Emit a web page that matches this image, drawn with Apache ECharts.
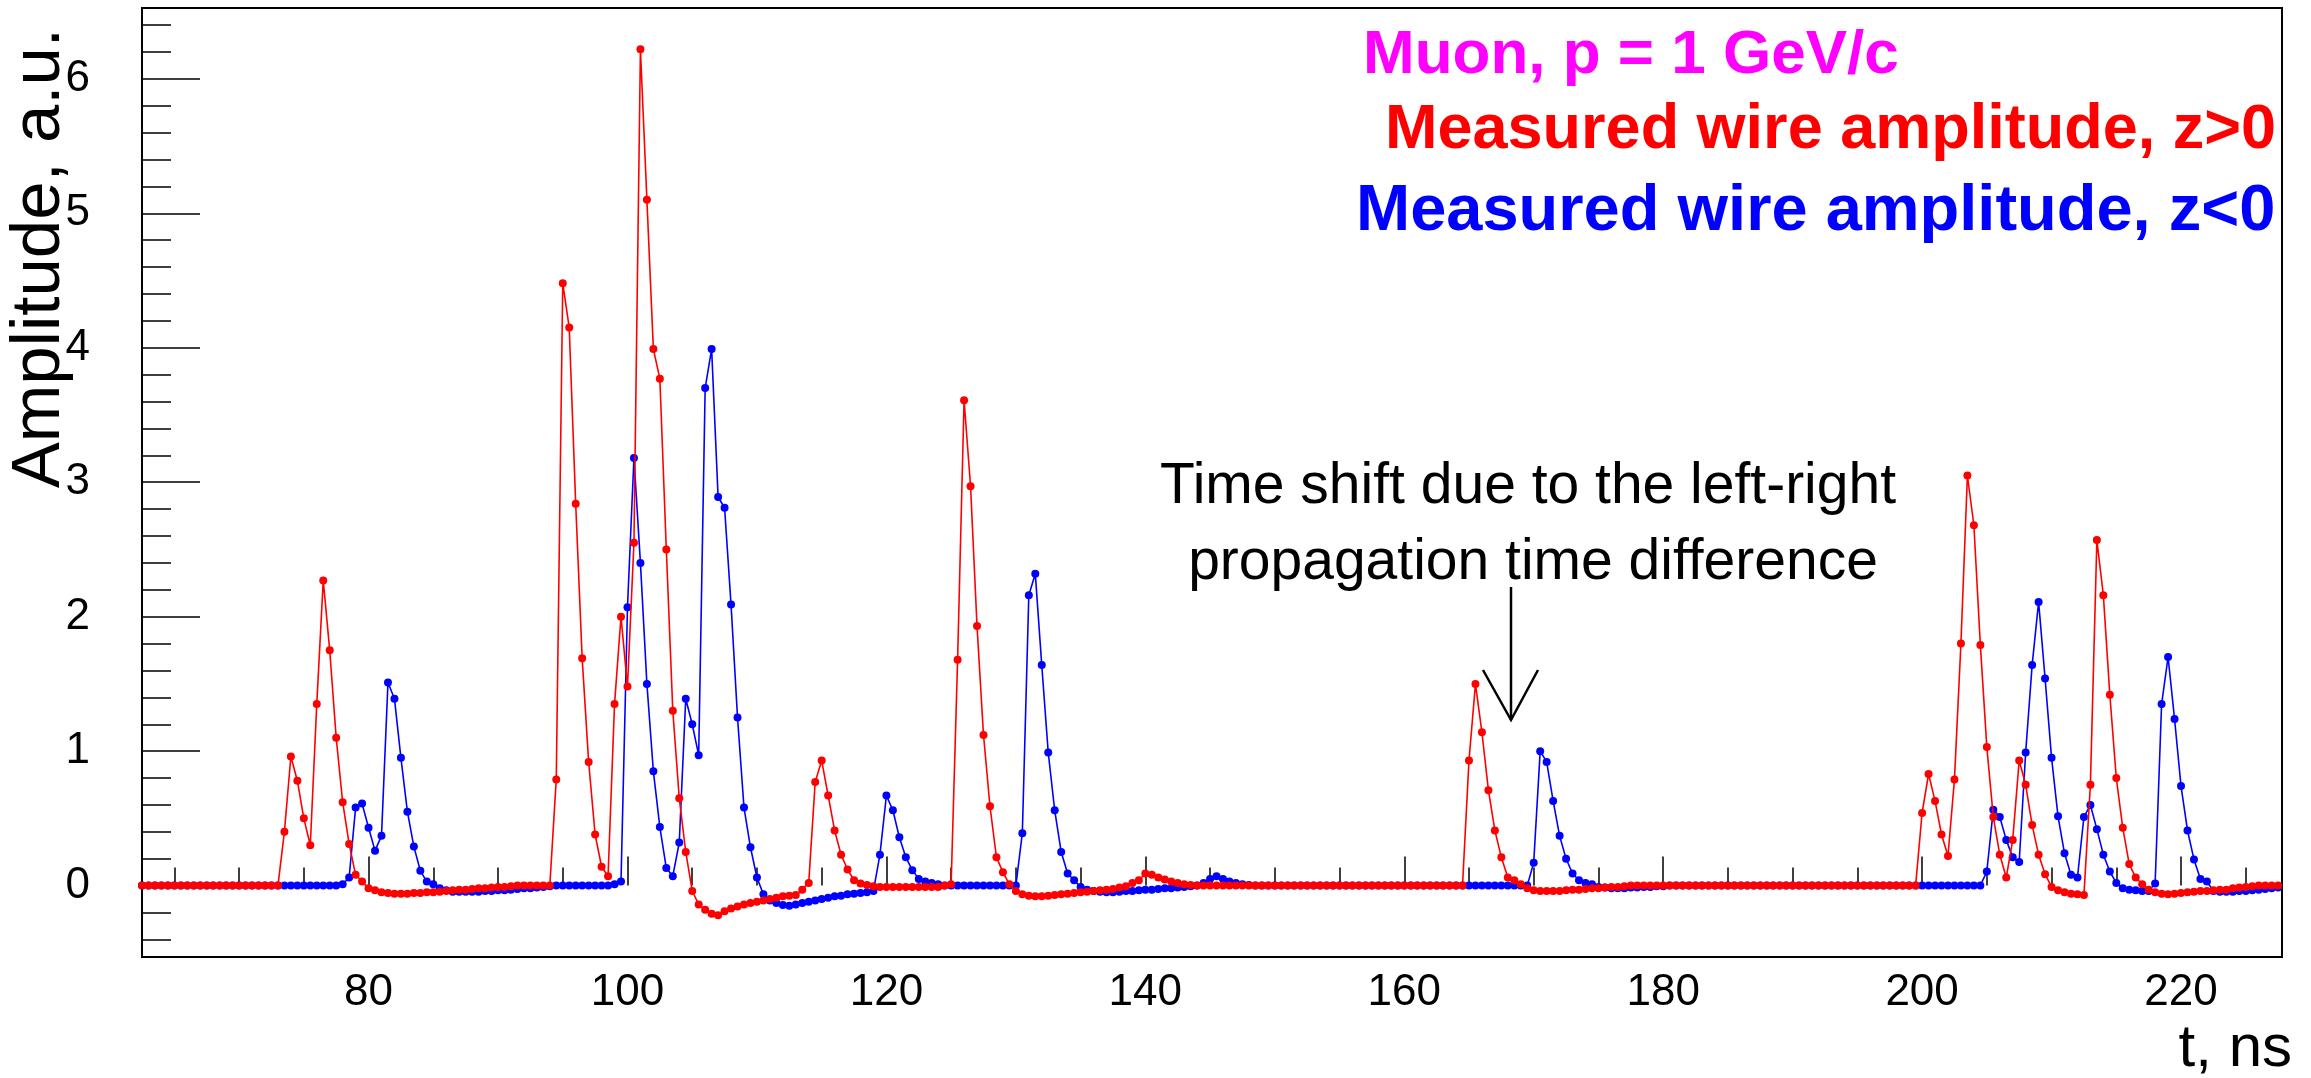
<!DOCTYPE html>
<html>
<head>
<meta charset="utf-8">
<script src="https://cdn.jsdelivr.net/npm/echarts@6/dist/echarts.min.js"></script>
<style>
html,body{margin:0;padding:0;background:#fff;}
#chart{width:2311px;height:1078px;}
</style>
</head>
<body>
<div id="chart"></div>
<script>
// Sampling grid: first sample time and step (ns)
const T_START = 62.5;
const T_STEP = 0.5;

// Measured wire amplitude, z>0 (red), one value per sample from 62.5 ns to 227.5 ns
const ampZpos = [
  0,0,0,0,0,0,0,0,0,0,
  0,0,0,0,0,0,0,0,0,0,
  0,0,0.40,0.96,0.78,0.50,0.30,1.35,2.27,1.75,
  1.10,0.62,0.31,0.08,0.03,-0.02,-0.035,-0.05,-0.055,-0.06,
  -0.06,-0.06,-0.055,-0.055,-0.05,-0.05,-0.045,-0.04,-0.035,-0.03,
  -0.03,-0.025,-0.02,-0.02,-0.015,-0.01,-0.01,-0.005,0,0,
  0,0,0,0,0.79,4.48,4.15,2.84,1.69,0.92,
  0.38,0.14,0.07,1.35,2.00,1.48,2.55,6.22,5.10,3.99,
  3.77,2.50,1.30,0.65,0.25,-0.04,-0.14,-0.18,-0.21,-0.22,
  -0.19,-0.17,-0.155,-0.14,-0.13,-0.12,-0.11,-0.10,-0.09,-0.08,
  -0.075,-0.07,-0.03,0.02,0.77,0.93,0.67,0.41,0.23,0.12,
  0.04,0.015,0.005,-0.005,-0.01,-0.01,-0.01,-0.01,-0.01,-0.01,
  -0.01,-0.01,-0.01,-0.01,0,0.01,1.68,3.61,2.97,1.93,
  1.12,0.59,0.21,0.10,0.01,-0.04,-0.065,-0.075,-0.08,-0.08,
  -0.075,-0.07,-0.065,-0.06,-0.055,-0.05,-0.045,-0.04,-0.035,-0.03,
  -0.025,-0.015,-0.005,0.02,0.04,0.09,0.08,0.06,0.045,0.03,
  0.02,0.01,0.005,0,0,0,0,0,0,0,
  0,0,0,0,0,0,0,0,0,0,
  0,0,0,0,0,0,0,0,0,0,
  0,0,0,0,0,0,0,0,0,0,
  0,0,0,0,0,0.93,1.50,1.14,0.71,0.41,
  0.21,0.06,0.04,0.01,-0.02,-0.035,-0.04,-0.04,-0.04,-0.04,
  -0.035,-0.03,-0.03,-0.025,-0.02,-0.02,-0.015,-0.01,-0.01,-0.005,
  0,0,0,0,0,0,0,0,0,0,
  0,0,0,0,0,0,0,0,0,0,
  0,0,0,0,0,0,0,0,0,0,
  0,0,0,0,0,0,0,0,0,0,
  0,0,0,0,0,0.54,0.83,0.63,0.38,0.22,
  0.79,1.80,3.05,2.68,1.79,1.03,0.51,0.23,0.06,0.34,
  0.93,0.75,0.45,0.23,0.085,-0.01,-0.035,-0.05,-0.06,-0.065,
  -0.07,0.75,2.57,2.16,1.42,0.80,0.43,0.16,0.06,0.01,
  -0.03,-0.05,-0.06,-0.065,-0.06,-0.055,-0.05,-0.045,-0.04,-0.04,
  -0.035,-0.03,-0.03,-0.02,-0.015,-0.01,-0.005,0,0,0,
  0
];

// Measured wire amplitude, z<0 (blue)
const ampZneg = [
  0,0,0,0,0,0,0,0,0,0,
  0,0,0,0,0,0,0,0,0,0,
  0,0,0,0,0,0,0,0,0,0,
  0,0.01,0.06,0.58,0.61,0.43,0.26,0.37,1.51,1.39,
  0.95,0.55,0.29,0.11,0.03,0.01,-0.02,-0.035,-0.045,-0.045,
  -0.045,-0.045,-0.045,-0.04,-0.04,-0.035,-0.035,-0.03,-0.025,-0.02,
  -0.02,-0.015,-0.01,-0.005,0,0,0,0,0,0,
  0,0,0,0.01,0.03,2.07,3.18,2.40,1.50,0.85,
  0.435,0.13,0.07,0.32,1.39,1.20,0.97,3.70,3.99,2.89,
  2.81,2.09,1.25,0.58,0.285,0.06,-0.065,-0.11,-0.13,-0.145,
  -0.15,-0.14,-0.13,-0.12,-0.11,-0.10,-0.09,-0.08,-0.075,-0.065,
  -0.06,-0.055,-0.05,-0.04,0.23,0.67,0.56,0.36,0.21,0.115,
  0.05,0.03,0.02,0.01,0,0,0,0,0,0,
  0,0,0,0,0,0,0.39,2.16,2.32,1.64,
  0.99,0.56,0.25,0.09,0.04,-0.01,-0.03,-0.04,-0.045,-0.05,
  -0.05,-0.045,-0.04,-0.04,-0.035,-0.03,-0.03,-0.025,-0.02,-0.02,
  -0.015,-0.01,-0.005,0,0.02,0.05,0.07,0.05,0.03,0.02,
  0.01,0.005,0,0,0,0,0,0,0,0,
  0,0,0,0,0,0,0,0,0,0,
  0,0,0,0,0,0,0,0,0,0,
  0,0,0,0,0,0,0,0,0,0,
  0,0,0,0,0,0.17,1.00,0.92,0.63,0.37,
  0.20,0.09,0.04,0.02,0.01,-0.01,-0.015,-0.02,-0.02,-0.02,
  -0.015,-0.015,-0.01,-0.01,-0.005,-0.005,0,0,0,0,
  0,0,0,0,0,0,0,0,0,0,
  0,0,0,0,0,0,0,0,0,0,
  0,0,0,0,0,0,0,0,0,0,
  0,0,0,0,0,0,0,0,0,0,
  0,0,0,0,0,0.105,0.565,0.51,0.34,0.21,
  0.175,0.99,1.64,2.11,1.54,0.95,0.515,0.24,0.08,0.06,
  0.51,0.60,0.42,0.23,0.105,0.02,-0.02,-0.03,-0.035,-0.04,
  -0.04,0.015,1.35,1.70,1.24,0.74,0.41,0.195,0.05,0.03,
  -0.04,-0.045,-0.045,-0.045,-0.04,-0.04,-0.035,-0.03,-0.025,-0.02,
  -0.015
];

// Axis tick values / labels
const xLabelTicks = [80,100,120,140,160,180,200,220];
const xMinorTicks = [65,70,75,85,90,95,105,110,115,125,130,135,145,150,155,165,170,175,185,190,195,205,210,215,225];
const yLabelTicks = [0,1,2,3,4,5,6];
const yMinorTicks = [-0.4,-0.2,0.2,0.4,0.6,0.8,1.2,1.4,1.6,1.8,2.2,2.4,2.6,2.8,3.2,3.4,3.6,3.8,4.2,4.4,4.6,4.8,5.2,5.4,5.6,5.8,6.2,6.4];

const X_MIN = 62.5, X_MAX = 227.8, Y_MIN = -0.531, Y_MAX = 6.527;

const FONT = '"Liberation Sans", Arial, Helvetica, sans-serif';

function toPairs(arr){ return arr.map((v,i)=>[T_START + i*T_STEP, v]); }

const chart = echarts.init(document.getElementById('chart'), null, {renderer:'canvas'});

const option = {
  animation: false,
  backgroundColor: '#fff',
  grid: {left:142, right:29, top:8, bottom:121, show:true, borderColor:'#000', borderWidth:2, backgroundColor:'transparent'},
  xAxis: [
    {type:'value', min:X_MIN, max:X_MAX, position:'bottom',
     axisLine:{show:false}, splitLine:{show:false},
     axisTick:{show:true, inside:true, length:29, customValues:xLabelTicks, lineStyle:{color:'#000', width:1.5}},
     axisLabel:{customValues:xLabelTicks, fontSize:44, fontFamily:FONT, color:'#000', margin:14}},
    {type:'value', min:X_MIN, max:X_MAX, position:'bottom',
     axisLine:{show:false}, splitLine:{show:false},
     axisTick:{show:true, inside:true, length:18, customValues:xMinorTicks, lineStyle:{color:'#000', width:1.5}},
     axisLabel:{show:false}}
  ],
  yAxis: [
    {type:'value', min:Y_MIN, max:Y_MAX, position:'left',
     axisLine:{show:false}, splitLine:{show:false},
     axisTick:{show:true, inside:true, length:58, customValues:yLabelTicks, lineStyle:{color:'#000', width:1.5}},
     axisLabel:{customValues:yLabelTicks, fontSize:44, fontFamily:FONT, color:'#000', margin:52}},
    {type:'value', min:Y_MIN, max:Y_MAX, position:'left',
     axisLine:{show:false}, splitLine:{show:false},
     axisTick:{show:true, inside:true, length:29, customValues:yMinorTicks, lineStyle:{color:'#000', width:1.5}},
     axisLabel:{show:false}}
  ],
  series: [
    {name:'Measured wire amplitude, z<0', type:'line', xAxisIndex:0, yAxisIndex:0,
     data: toPairs(ampZneg), symbol:'circle', symbolSize:8, showSymbol:true,
     lineStyle:{color:'#0000ff', width:1.6}, itemStyle:{color:'#0000ff'}, z:2},
    {name:'Measured wire amplitude, z>0', type:'line', xAxisIndex:0, yAxisIndex:0,
     data: toPairs(ampZpos), symbol:'circle', symbolSize:8, showSymbol:true,
     lineStyle:{color:'#ff0000', width:1.6}, itemStyle:{color:'#ff0000'}, z:3}
  ],
  graphic: [
    {type:'text', x:40, y:28, rotation:Math.PI/2, z:10,
     style:{text:'Amplitude, a.u.', font:'69px ' + FONT, fill:'#000', textAlign:'right', textVerticalAlign:'middle'}},
    {type:'text', x:2292, y:1049, z:10,
     style:{text:'t, ns', font:'60px ' + FONT, fill:'#000', textAlign:'right', textVerticalAlign:'middle'}},
    {type:'text', x:1363, y:56, z:10,
     style:{text:'Muon, p = 1 GeV/c', font:'bold 62px ' + FONT, fill:'#ff00ff', textAlign:'left', textVerticalAlign:'middle'}},
    {type:'text', x:1385, y:131, z:10,
     style:{text:'Measured wire amplitude, z>0', font:'bold 63px ' + FONT, fill:'#ff0000', textAlign:'left', textVerticalAlign:'middle'}},
    {type:'text', x:1356, y:212, z:10,
     style:{text:'Measured wire amplitude, z<0', font:'bold 65px ' + FONT, fill:'#0000ff', textAlign:'left', textVerticalAlign:'middle'}},
    {type:'text', x:1528, y:487, z:10,
     style:{text:'Time shift due to the left-right', font:'57px ' + FONT, fill:'#000', textAlign:'center', textVerticalAlign:'middle'}},
    {type:'text', x:1533, y:563, z:10,
     style:{text:'propagation time difference', font:'57px ' + FONT, fill:'#000', textAlign:'center', textVerticalAlign:'middle'}},
    {type:'polyline', z:10, shape:{points:[[1511,587],[1511,720]]}, style:{stroke:'#000', lineWidth:2.5, fill:null}},
    {type:'polyline', z:10, shape:{points:[[1483,670],[1511,720],[1538,670]]}, style:{stroke:'#000', lineWidth:2.5, fill:null}}
  ]
};
chart.setOption(option);
</script>
</body>
</html>
